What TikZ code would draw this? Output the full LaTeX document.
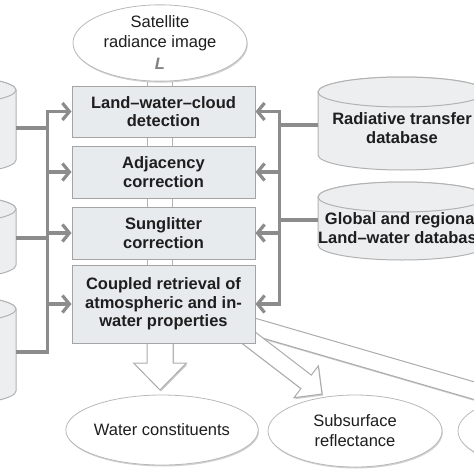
\documentclass[tikz,border=0pt]{standalone}
\usepackage{fontspec}
\setmainfont{Liberation Sans}
\usetikzlibrary{arrows.meta,shadows,shapes.geometric}

\definecolor{linkgray}{HTML}{8C8C8C}
\definecolor{boxfill}{HTML}{E8EBEE}
\definecolor{boxline}{HTML}{A4A4A4}
\definecolor{drumfill}{HTML}{ECEEF0}
\definecolor{txt}{HTML}{1E1E1E}

\tikzset{
  box/.style={draw=boxline, fill=boxfill, line width=1pt, minimum width=183pt,
    align=center, text=txt, font=\fontsize{16.5}{18.5}\selectfont\bfseries,
    drop shadow={shadow xshift=1.2pt, shadow yshift=-1.2pt, fill=black!45, opacity=.5}},
  oval/.style={ellipse, draw=gray!55, fill=white, line width=0.8pt, inner sep=0pt,
    align=center, text=txt, font=\fontsize{16.5}{20}\selectfont,
    drop shadow={shadow xshift=0.8pt, shadow yshift=-1.5pt, fill=black!40, opacity=.45}},
  drumtext/.style={align=center, text=txt, font=\fontsize{16.5}{19}\selectfont\bfseries},
  drum/.style={draw=gray!60, fill=drumfill, line width=1pt},
  link/.style={draw=linkgray, line width=3.2pt},
  shaft/.style={draw=gray!60, line width=1.2pt},
  hollow/.style={draw=gray!65, fill=white, line width=1pt,
    drop shadow={shadow xshift=1pt, shadow yshift=-1.5pt, fill=black!45, opacity=.45}},
}

\begin{document}
\begin{tikzpicture}[x=1pt, y=-1pt, >={Straight Barb[length=7pt,width=17pt]}]

\useasboundingbox (0,0) rectangle (474,474);
\clip (0,0) rectangle (474,474);

% hollow arrows out of the retrieval box
\begin{scope}[shift={(520,404)}, rotate=-16.2]
  \draw[hollow] (0pt,0pt) -- (-20pt,20pt) -- (-20pt,8.5pt) -- (-300pt,8.5pt)
    -- (-300pt,-8.5pt) -- (-20pt,-8.5pt) -- (-20pt,-20pt) -- cycle;
\end{scope}
\begin{scope}[shift={(322,394)}, rotate=-37.5]
  \draw[hollow] (0pt,0pt) -- (-20pt,20pt) -- (-20pt,8.5pt) -- (-115pt,8.5pt)
    -- (-115pt,-8.5pt) -- (-20pt,-8.5pt) -- (-20pt,-20pt) -- cycle;
\end{scope}
\begin{scope}[shift={(160,390)}, rotate=-90]
  \draw[hollow] (0pt,0pt) -- (-27pt,26.5pt) -- (-27pt,13pt) -- (-60pt,13pt)
    -- (-60pt,-13pt) -- (-27pt,-13pt) -- (-27pt,-26.5pt) -- cycle;
\end{scope}

% databases on the left
\draw[drum] (-152,90) -- (-152,160) arc[start angle=180, end angle=360, x radius=84pt, y radius=15pt] -- (16,90) arc[start angle=0, end angle=180, x radius=84pt, y radius=15pt] -- cycle;
\draw[drum] (-68,90) ellipse[x radius=84pt, y radius=15pt];
\draw[drum] (-152,209) -- (-152,265) arc[start angle=180, end angle=360, x radius=84pt, y radius=15pt] -- (16,209) arc[start angle=0, end angle=180, x radius=84pt, y radius=15pt] -- cycle;
\draw[drum] (-68,209) ellipse[x radius=84pt, y radius=15pt];
\draw[drum] (-152,309) -- (-152,391) arc[start angle=180, end angle=360, x radius=84pt, y radius=15pt] -- (16,309) arc[start angle=0, end angle=180, x radius=84pt, y radius=15pt] -- cycle;
\draw[drum] (-68,309) ellipse[x radius=84pt, y radius=15pt];
\coordinate (ldb1) at (16,128);
\coordinate (ldb2) at (16,238);
\coordinate (ldb3) at (16,352);

% databases on the right
\draw[drum] (318,92) -- (318,155) arc[start angle=180, end angle=360, x radius=84pt, y radius=15pt] -- (486,92) arc[start angle=0, end angle=180, x radius=84pt, y radius=15pt] -- cycle;
\draw[drum] (402,92) ellipse[x radius=84pt, y radius=15pt];
\node[drumtext] (rtdb) at (402,128) {Radiative transfer\\database};
\coordinate (rtdbw) at (318,125);
\draw[drum] (318,197) -- (318,245) arc[start angle=180, end angle=360, x radius=84pt, y radius=15pt] -- (486,197) arc[start angle=0, end angle=180, x radius=84pt, y radius=15pt] -- cycle;
\draw[drum] (402,197) ellipse[x radius=84pt, y radius=15pt];
\node[drumtext] (lwdb) at (402,228) {Global and regional\\Land–water database};
\coordinate (lwdbw) at (318,220);

% processing chain
\node[box, minimum height=51pt] (lwc) at (163.5,111.5) {Land–water–cloud\\detection};
\node[box, minimum height=52pt] (adj) at (163.5,172) {Adjacency\\correction};
\node[box, minimum height=52pt] (sun) at (163.5,233) {Sunglitter\\correction};
\node[box, minimum height=78pt] (cpl) at (163.5,304) {Coupled retrieval of\\atmospheric and in-\\water properties};

\coordinate (lbus) at ([xshift=-24pt]lwc.west);
\coordinate (rbus) at ([xshift=24pt]lwc.east);

\draw[link, ->] (ldb3) -| (lbus) -- (lwc.west);
\draw[link, ->] (lbus |- adj.west) -- (adj.west);
\draw[link, ->] (lbus |- sun.west) -- (sun.west);
\draw[link, ->] (lbus |- cpl.west) -- (cpl.west);
\draw[link] (ldb1) -- (ldb1 -| lbus);
\draw[link] (ldb2) -- (ldb2 -| lbus);

\draw[link, ->] (rbus |- adj.east) |- (lwc.east);
\draw[link, ->] (rbus |- adj.east) |- (cpl.east);
\draw[link, ->] (rbus |- adj.east) -- (adj.east);
\draw[link, ->] (rbus |- sun.east) -- (sun.east);
\draw[link] (rtdbw) -- (rtdbw -| rbus);
\draw[link] (lwdbw) -- (lwdbw -| rbus);

% input and outputs
\node[oval, minimum width=174pt, minimum height=72pt] (sat) at (160,43)
  {Satellite\\radiance image\\[2pt]{\color{gray}\bfseries\itshape L}};
\node[oval, minimum width=170pt, minimum height=70pt] (wc) at (162,430) {Water constituents};
\node[oval, minimum width=174pt, minimum height=72pt] (ssr) at (355,431) {Subsurface\\reflectance};
\node[oval, minimum width=174pt, minimum height=72pt] (out3) at (545,431) {};

\coordinate (axl) at ([xshift=-12.5pt]sat.south);
\coordinate (axr) at ([xshift=12.5pt]sat.south);
\draw[shaft] (axl |- sat.south) -- (axl |- lwc.north);
\draw[shaft] (axr |- sat.south) -- (axr |- lwc.north);
\draw[shaft] (axl |- lwc.south) -- (axl |- adj.north);
\draw[shaft] (axr |- lwc.south) -- (axr |- adj.north);
\draw[shaft] (axl |- adj.south) -- (axl |- sun.north);
\draw[shaft] (axr |- adj.south) -- (axr |- sun.north);
\draw[shaft] (axl |- sun.south) -- (axl |- cpl.north);
\draw[shaft] (axr |- sun.south) -- (axr |- cpl.north);

\end{tikzpicture}
\end{document}
